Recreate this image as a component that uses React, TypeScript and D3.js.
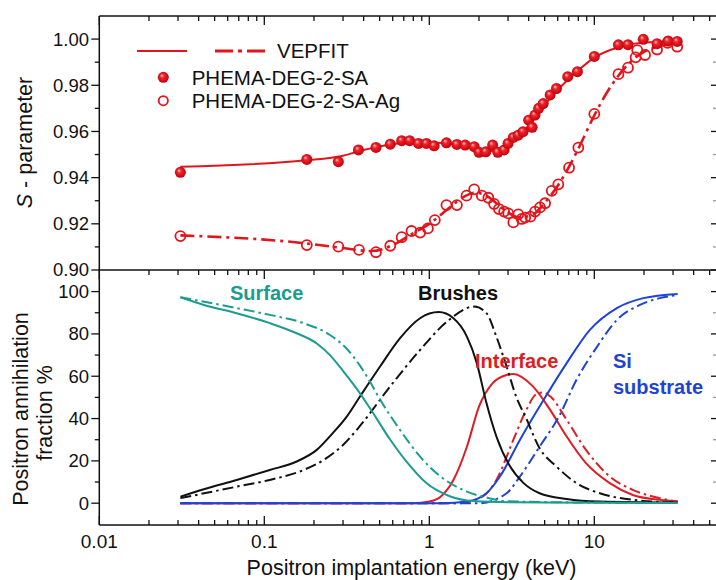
import React from 'react';
import * as d3 from 'd3';

// ---- S-parameter data: PHEMA-DEG-2-SA (filled) ----
const energySA = [0.031, 0.181, 0.281, 0.372, 0.475, 0.58, 0.68, 0.76, 0.86, 0.96, 1.07, 1.27, 1.47, 1.65, 1.87, 2.0, 2.2, 2.42, 2.6, 2.84, 3.0, 3.23, 3.46, 3.7, 4.0, 4.2, 4.37, 4.6, 4.9, 5.4, 5.9, 6.9, 7.9, 10.0, 14.0, 16.0, 19.8, 24.0, 28.0, 31.8];
const sSA = [0.9423, 0.9479, 0.9469, 0.952, 0.9531, 0.9545, 0.956, 0.956, 0.9548, 0.9548, 0.9538, 0.9551, 0.9544, 0.9541, 0.9534, 0.951, 0.9512, 0.9541, 0.951, 0.952, 0.9548, 0.9574, 0.9584, 0.9599, 0.9649, 0.9618, 0.9671, 0.97, 0.9721, 0.9758, 0.9786, 0.9837, 0.9859, 0.9925, 0.9975, 0.9976, 0.9999, 0.998, 0.9992, 0.999];

// ---- S-parameter data: PHEMA-DEG-2-SA-Ag (open) ----
const energySAAg = [0.031, 0.181, 0.281, 0.375, 0.475, 0.58, 0.68, 0.78, 0.88, 0.98, 1.08, 1.27, 1.47, 1.68, 1.87, 2.08, 2.28, 2.47, 2.64, 2.84, 3.01, 3.23, 3.46, 3.63, 3.81, 4.1, 4.37, 4.69, 5.03, 5.52, 6.05, 7.03, 8.0, 10.0, 14.0, 16.0, 17.8, 18.2, 20.3, 24.0, 27.8, 31.8];
const sSAAg = [0.9147, 0.9108, 0.9101, 0.9087, 0.9077, 0.9105, 0.9142, 0.9169, 0.9162, 0.918, 0.9216, 0.9281, 0.9281, 0.9322, 0.9349, 0.9322, 0.9313, 0.9286, 0.9264, 0.9253, 0.9245, 0.9206, 0.9241, 0.9221, 0.9227, 0.9231, 0.9253, 0.9271, 0.9289, 0.9343, 0.9371, 0.9443, 0.953, 0.9676, 0.9848, 0.9876, 0.9921, 0.9952, 0.9931, 0.9955, 0.9984, 0.9967];

// ---- VEPFIT curves ----
const fitEnergySA = [0.031, 0.18, 0.3, 0.4, 0.6, 0.8, 1.2, 1.8, 2.3, 2.8, 3.3, 4.0, 5.0, 6.0, 8.0, 10, 14, 20, 32];
const fitSSA = [0.9447, 0.9475, 0.9495, 0.952, 0.9545, 0.9553, 0.955, 0.9532, 0.9515, 0.9522, 0.9565, 0.9625, 0.9715, 0.978, 0.9865, 0.992, 0.9965, 0.9985, 0.999];
const fitEnergySAAg = [0.031, 0.18, 0.3, 0.45, 0.6, 0.8, 1.0, 1.3, 1.6, 1.9, 2.3, 2.8, 3.5, 4.2, 5.0, 6.0, 7.0, 8.0, 10, 13, 16, 20, 25, 32];
const fitSSAAg = [0.915, 0.9115, 0.9095, 0.9082, 0.9108, 0.916, 0.92, 0.9265, 0.9315, 0.9335, 0.9315, 0.9265, 0.9228, 0.9238, 0.929, 0.9365, 0.9445, 0.9525, 0.967, 0.981, 0.989, 0.9945, 0.997, 0.9985];

// ---- Annihilation fractions (%) per layer: [energy keV, fraction] ----
const surfaceSA: [number, number][] = [[0.031, 97.3], [0.043, 93.7], [0.068, 89.8], [0.108, 85.1], [0.157, 80.3], [0.208, 75.5], [0.25, 70], [0.3, 62.5], [0.36, 54.5], [0.44, 44.5], [0.58, 30], [0.73, 19.5], [0.96, 9.5], [1.33, 3.3], [1.85, 1.0], [3, 0.4], [10, 0.2], [32, 0.1]];
const surfaceSAAg: [number, number][] = [[0.031, 97.3], [0.068, 92.2], [0.108, 89], [0.173, 85.1], [0.25, 79.5], [0.316, 73], [0.38, 65], [0.44, 57], [0.503, 49], [0.665, 34.6], [0.879, 22], [1.17, 12.6], [1.69, 5.5], [2.3, 2.4], [3, 0.9], [10, 0.3], [32, 0.2]];
const brushesSA: [number, number][] = [[0.031, 3.1], [0.043, 6.6], [0.068, 11], [0.108, 15.7], [0.157, 19.7], [0.208, 25.2], [0.26, 33.1], [0.316, 40.9], [0.38, 50.4], [0.503, 64.6], [0.665, 78], [0.879, 87.4], [1.14, 90.3], [1.4, 87.4], [1.69, 78.7], [1.94, 66.2], [2.22, 47.3], [2.55, 31.5], [3.09, 17.3], [3.73, 9.5], [4.66, 4.7], [6.8, 2.0], [10.8, 0.8], [32, 0.3]];
const brushesSAAg: [number, number][] = [[0.031, 2.4], [0.068, 7.8], [0.108, 11], [0.173, 15.7], [0.238, 21.3], [0.3, 27.5], [0.38, 36.5], [0.578, 55.1], [0.879, 72.4], [1.28, 85.8], [1.87, 92.9], [2.22, 89.8], [2.55, 78.7], [2.94, 64.6], [3.36, 50.4], [3.87, 40], [4.66, 26], [5.9, 17.3], [7.8, 9.5], [10.8, 4.7], [17.1, 1.6], [32, 0.3]];
const interfaceSA: [number, number][] = [[0.031, 0], [0.8, 0], [1.0, 0.8], [1.17, 3.1], [1.4, 11], [1.69, 26.7], [2.0, 45.6], [2.42, 56.7], [2.94, 60.6], [3.23, 61.1], [4.26, 55.1], [5.4, 44.1], [6.8, 31.5], [8.9, 18.9], [12.4, 9.5], [17.1, 3.9], [24.9, 1.6], [32, 0.8]];
const interfaceSAAg: [number, number][] = [[0.031, 0], [1.5, 0], [2.1, 3.1], [2.55, 11], [3.23, 29.9], [3.87, 44.1], [4.45, 51.5], [4.9, 52.3], [5.4, 50.5], [6.8, 39.4], [8.9, 25.2], [12.4, 12.6], [17.1, 6.3], [24.9, 2.4], [32, 0.8]];
const substrateSA: [number, number][] = [[0.031, 0], [1.2, 0], [1.69, 0.8], [2.22, 4.7], [2.68, 12.6], [3.54, 29.9], [4.9, 48.5], [6.8, 66.2], [9.4, 81.9], [13.7, 92.2], [19.8, 96.9], [32, 98.9]];
const substrateSAAg: [number, number][] = [[0.031, 0], [2.0, 0], [2.94, 4.7], [3.54, 12.6], [4.66, 26.7], [6.1, 40.9], [7.8, 58.3], [10.4, 74], [13.7, 86.6], [18.9, 93.7], [24.9, 96.9], [32, 98.4]];

// ---- Axis ticks ----
const sMajor = [0.9, 0.92, 0.94, 0.96, 0.98, 1.0];
const sMinor = [0.91, 0.93, 0.95, 0.97, 0.99];
const fMajor = [0, 20, 40, 60, 80, 100];
const fMinor = [10, 30, 50, 70, 90];
const xLabels = ['0.01', '0.1', '1', '10'];

const FONT = "'Liberation Sans', Arial, Helvetica, sans-serif";
const RED = '#e3141b';
const TEAL = '#1b9c90';
const BLUE = '#1f43d4';
const IFACE = '#dd1d23';
const INK = '#111';

export default function App() {
  const x = d3.scaleLog().domain([0.01, 55.4]).range([99.3, 717]);
  const yS = d3.scaleLinear().domain([0.9, 1.01]).range([270, 16]);
  const yF = d3.scaleLinear().domain([-10.3, 110.2]).range([525, 270]);

  const [xl, xr] = x.range();
  const topY0 = yS.range()[1];
  const midY = yS.range()[0];
  const botY = yF.range()[0];

  const lineS = d3
    .line<[number, number]>()
    .x((d) => x(d[0]))
    .y((d) => yS(d[1]))
    .curve(d3.curveMonotoneX);
  const lineF = d3
    .line<[number, number]>()
    .x((d) => x(d[0]))
    .y((d) => yF(d[1]))
    .curve(d3.curveMonotoneX);

  const zip = (a: number[], b: number[]) => a.map((v, i) => [v, b[i]] as [number, number]);

  const xTicks = x.ticks();
  const isDecade = (t: number) => Math.abs(Math.log10(t) - Math.round(Math.log10(t))) < 1e-6;

  const DASH_TOP = '14,5,3,5';
  const DASH_BOT = '11,4,2.5,4';

  const fracCurves = [
    { d: interfaceSA, c: IFACE, dash: undefined },
    { d: interfaceSAAg, c: IFACE, dash: DASH_BOT },
    { d: substrateSAAg, c: BLUE, dash: DASH_BOT },
    { d: substrateSA, c: BLUE, dash: undefined },
    { d: brushesSA, c: INK, dash: undefined },
    { d: brushesSAAg, c: INK, dash: DASH_BOT },
    { d: surfaceSAAg, c: TEAL, dash: DASH_BOT },
    { d: surfaceSA, c: TEAL, dash: undefined },
  ];

  return (
    <svg
      width={716}
      height={580}
      viewBox="0 0 716 580"
      style={{ position: 'absolute', left: 0, top: 0, background: '#fff', fontFamily: FONT }}
    >
      <defs>
        <radialGradient id="ball" cx="50%" cy="50%" r="55%" fx="35%" fy="32%">
          <stop offset="0" stopColor="#ffc4c4" />
          <stop offset="0.35" stopColor="#f2222a" />
          <stop offset="1" stopColor="#b80008" />
        </radialGradient>
      </defs>

      {/* ---------- top panel: S parameter ---------- */}
      <path d={lineS(zip(fitEnergySA, fitSSA)) || ''} fill="none" stroke={RED} strokeWidth={2} />
      <path
        d={lineS(zip(fitEnergySAAg, fitSSAAg)) || ''}
        fill="none"
        stroke={RED}
        strokeWidth={2.6}
        strokeDasharray={DASH_TOP}
      />
      {energySAAg.map((e, i) => (
        <circle key={'o' + i} cx={x(e)} cy={yS(sSAAg[i])} r={5} fill="none" stroke={RED} strokeWidth={1.8} />
      ))}
      {energySA.map((e, i) => (
        <circle key={'f' + i} cx={x(e)} cy={yS(sSA[i])} r={5.5} fill="url(#ball)" />
      ))}

      {/* legend */}
      <line x1={137} x2={187} y1={51} y2={51} stroke={RED} strokeWidth={2} />
      <line x1={215} x2={267} y1={51} y2={51} stroke={RED} strokeWidth={3} strokeDasharray="18,5,4,5" />
      <text x={277} y={57.8} fontSize={20.5} fill={INK}>VEPFIT</text>
      <circle cx={163.3} cy={77.3} r={5.5} fill="url(#ball)" />
      <text x={191.7} y={85} fontSize={20.5} fill={INK}>PHEMA-DEG-2-SA</text>
      <circle cx={163.3} cy={100.7} r={4.6} fill="none" stroke={RED} strokeWidth={1.8} />
      <text x={191.7} y={108.3} fontSize={20.5} fill={INK}>PHEMA-DEG-2-SA-Ag</text>

      {/* ---------- bottom panel: annihilation fractions ---------- */}
      {fracCurves.map((c, i) => (
        <path
          key={'fc' + i}
          d={lineF(c.d) || ''}
          fill="none"
          stroke={c.c}
          strokeWidth={2}
          strokeDasharray={c.dash}
        />
      ))}
      <text x={230} y={300} fontSize={20} fontWeight="bold" fill={TEAL}>Surface</text>
      <text x={418} y={300} fontSize={20} fontWeight="bold" fill={INK}>Brushes</text>
      <text x={475} y={368} fontSize={20} fontWeight="bold" fill={IFACE}>Interface</text>
      <text x={613} y={368} fontSize={20} fontWeight="bold" fill={BLUE}>Si</text>
      <text x={613} y={394} fontSize={20} fontWeight="bold" fill={BLUE}>substrate</text>

      {/* ---------- frame ---------- */}
      <g stroke={INK} strokeWidth={1.5} fill="none">
        <line x1={xl} x2={xr} y1={topY0} y2={topY0} />
        <line x1={xl} x2={xr} y1={midY} y2={midY} />
        <line x1={xl} x2={xr} y1={botY} y2={botY} />
        <line x1={xl} x2={xl} y1={topY0} y2={botY} />
      </g>

      {/* x ticks: top edge, shared edge, bottom edge */}
      <g stroke={INK} strokeWidth={1.3}>
        {xTicks.map((t, i) => {
          const px = x(t);
          const L = isDecade(t) ? 9 : 5;
          return (
            <g key={'xt' + i}>
              <line x1={px} x2={px} y1={topY0} y2={topY0 + L} />
              <line x1={px} x2={px} y1={midY} y2={midY + L} />
              <line x1={px} x2={px} y1={botY} y2={botY - L} />
            </g>
          );
        })}
      </g>
      {xLabels.map((s) => (
        <text key={'xl' + s} x={x(+s)} y={547.5} fontSize={19} textAnchor="middle" fill={INK}>
          {s}
        </text>
      ))}

      {/* y ticks, top panel */}
      <g stroke={INK} strokeWidth={1.3}>
        {sMajor.map((t) => (
          <g key={'sm' + t}>
            <line x1={xl - 8} x2={xl} y1={yS(t)} y2={yS(t)} />
            <line x1={xr - 6} x2={xr} y1={yS(t)} y2={yS(t)} />
          </g>
        ))}
        {sMinor.map((t) => (
          <g key={'sn' + t}>
            <line x1={xl - 4.5} x2={xl} y1={yS(t)} y2={yS(t)} />
            <line x1={xr - 4} x2={xr} y1={yS(t)} y2={yS(t)} stroke="#999" />
          </g>
        ))}
      </g>
      {sMajor.map((t) => (
        <text key={'sl' + t} x={89} y={yS(t)} dy="0.35em" fontSize={18.5} textAnchor="end" fill={INK}>
          {t.toFixed(2)}
        </text>
      ))}

      {/* y ticks, bottom panel */}
      <g stroke={INK} strokeWidth={1.3}>
        {fMajor.map((t) => (
          <g key={'fm' + t}>
            <line x1={xl - 8} x2={xl} y1={yF(t)} y2={yF(t)} />
            <line x1={xr - 6} x2={xr} y1={yF(t)} y2={yF(t)} />
          </g>
        ))}
        {fMinor.map((t) => (
          <g key={'fn' + t}>
            <line x1={xl - 4.5} x2={xl} y1={yF(t)} y2={yF(t)} />
            <line x1={xr - 4} x2={xr} y1={yF(t)} y2={yF(t)} stroke="#999" />
          </g>
        ))}
      </g>
      {fMajor.map((t) => (
        <text key={'fl' + t} x={89} y={yF(t)} dy="0.35em" fontSize={18.5} textAnchor="end" fill={INK}>
          {t}
        </text>
      ))}

      {/* axis titles */}
      <text x={411.5} y={575} fontSize={21.5} textAnchor="middle" fill={INK}>
        Positron implantation energy (keV)
      </text>
      <text transform="translate(32,142.5) rotate(-90)" fontSize={21.5} textAnchor="middle" fill={INK}>
        <tspan fontStyle="italic">S</tspan> - parameter
      </text>
      <text transform="translate(28,409) rotate(-90)" fontSize={21.5} textAnchor="middle" fill={INK}>
        Positron annihilation
      </text>
      <text transform="translate(52,413) rotate(-90)" fontSize={21.5} textAnchor="middle" fill={INK}>
        fraction %
      </text>
    </svg>
  );
}
